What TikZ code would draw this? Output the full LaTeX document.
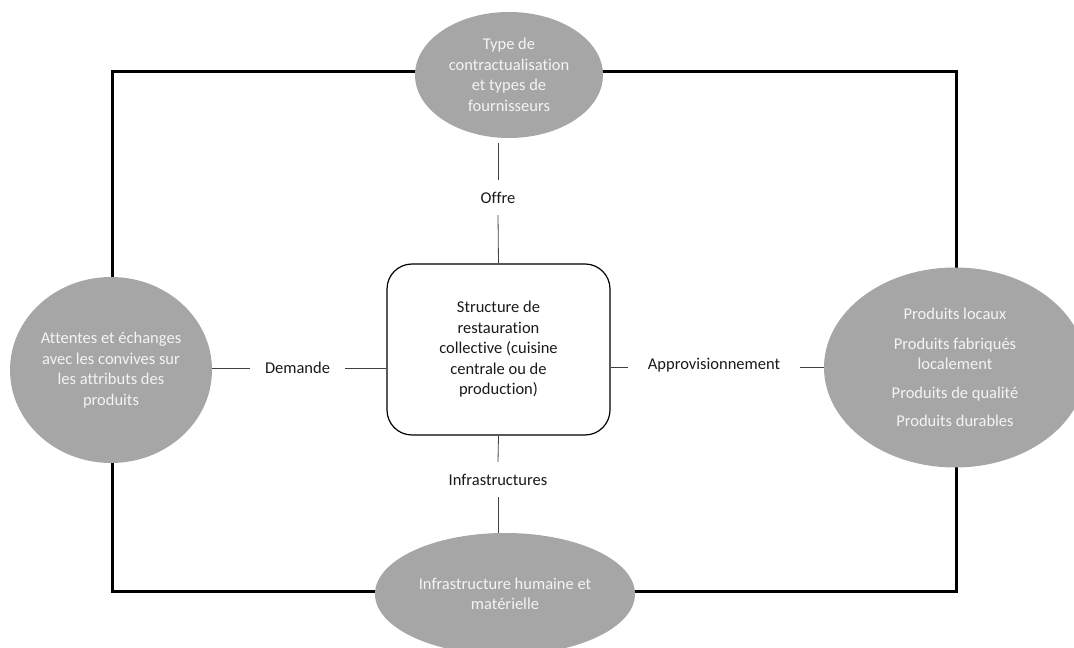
\documentclass[tikz,border=0pt]{standalone}
\usepackage{fontspec}
\setmainfont{Carlito}[Ligatures={NoCommon}]
\usetikzlibrary{shapes.geometric,backgrounds}
\definecolor{bubble}{HTML}{A6A6A6}
\definecolor{bubbletext}{HTML}{F4F4F4}
\definecolor{linkgray}{HTML}{404040}
\definecolor{labeltext}{HTML}{1A1A1A}
\tikzset{
  bubble/.style={ellipse, fill=bubble, draw=none, inner sep=0pt,
    text=bubbletext, align=center, font=\fontsize{16.5}{20.5}\selectfont},
  hub/.style={rectangle, rounded corners=25pt, draw=black, line width=1.2pt,
    fill=white, inner sep=0pt, minimum width=223pt, minimum height=171pt,
    align=center, text=labeltext, font=\fontsize{16.5}{20.5}\selectfont},
  linklabel/.style={rectangle, fill=white, draw=none, inner sep=0pt,
    text=labeltext, font=\fontsize{16.5}{18}\selectfont},
  link/.style={draw=linkgray, line width=0.8pt},
  frame/.style={draw=black, line width=3pt}
}
\begin{document}
\begin{tikzpicture}[x=1pt, y=1pt]
  \useasboundingbox (0,0) rectangle (1074,648);

  % central structure
  \node[hub] (hub) at (498.5,298.5)
    {Structure de\\restauration\\collective (cuisine\\centrale ou de\\production)};

  % the four surrounding bubbles
  \node[bubble, minimum width=188pt, minimum height=126pt] (top) at (509,573)
    {Type de\\contractualisation\\et types de\\fournisseurs};
  \node[bubble, minimum width=202pt, minimum height=186pt] (left) at (111,278)
    {Attentes et échanges\\avec les convives sur\\les attributs des\\produits};
  \node[bubble, minimum width=262pt, minimum height=200pt,
        font=\fontsize{16.5}{20}\selectfont] (right) at (955,280.5)
    {Produits locaux\\[10pt]Produits fabriqués\\localement\\[9pt]Produits de qualité\\[8pt]Produits durables};
  \node[bubble, minimum width=260pt, minimum height=122pt] (bottom) at (505,54)
    {Infrastructure humaine et\\matérielle};

  % link labels
  \node[linklabel, minimum width=50pt, minimum height=35pt] (offre) at (498,450.5) {Offre};
  \node[linklabel, minimum width=95pt, minimum height=30pt] (demande) at (297.5,280) {Demande};
  \node[linklabel, minimum width=172pt, minimum height=30pt] (appro) at (714,281)
    {\raisebox{7pt}{Approvisionnement}};
  \node[linklabel, minimum width=110pt, minimum height=35pt] (infra) at (498,168.5) {Infrastructures};

  % links between the hub and the bubbles
  \draw[link] (hub.north) -- (offre.south);
  \draw[link, shorten >=5pt] (offre.north) -- (offre.north |- top.south);
  \draw[link] (hub.west |- demande.east) -- (demande.east);
  \draw[link] (demande.west) -- (demande.west -| left.east);
  \draw[link] (hub.east |- appro.east) -- (appro.west);
  \draw[link] (appro.east) -- (appro.east -| right.west);
  \draw[link] (hub.south) -- (infra.north);
  \draw[link] (infra.south) -- (infra.south |- bottom.north);

  % outer frame joining the bubbles
  \begin{scope}[on background layer]
    \draw[frame] (112,576) coordinate (tl) -- (956,576) coordinate (tr)
      -- (956,56) coordinate (br) -- (112,56) coordinate (bl) -- cycle;
  \end{scope}
\end{tikzpicture}
\end{document}
